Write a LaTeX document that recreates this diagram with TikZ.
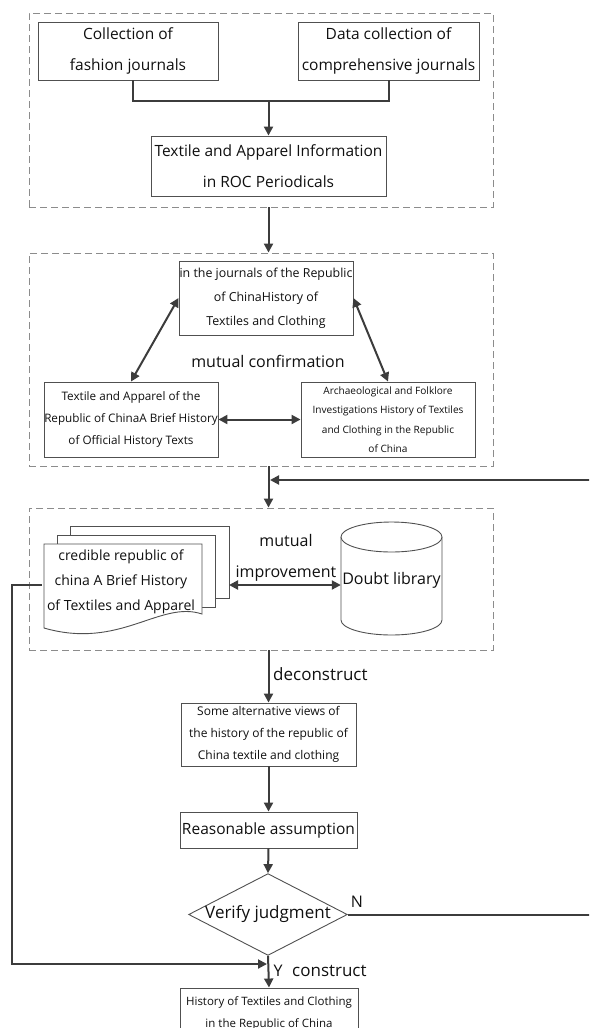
\documentclass[tikz,border=0pt]{standalone}
\usepackage{fontspec}
\setmainfont{Open Sans}
\usetikzlibrary{arrows.meta,shapes.geometric}

\begin{document}
\begin{tikzpicture}[x=1pt,y=-1pt,
  box/.style={draw=boxline,line width=0.9pt,fill=white,align=center,inner sep=0pt,text=ink},
  group/.style={draw=dashline,line width=0.9pt,dash pattern=on 7pt off 4pt,inner sep=0pt},
  flow/.style={draw=flowline,line width=2pt,-{Triangle[length=9pt,width=9pt]}},
  both/.style={draw=flowline,line width=2pt,{Triangle[length=9pt,width=9pt]}-{Triangle[length=9pt,width=9pt]}},
  wire/.style={draw=flowline,line width=2pt},
  tag/.style={text=ink,inner sep=0pt}]
  \definecolor{boxline}{HTML}{505050}
  \definecolor{dashline}{HTML}{8C8C8C}
  \definecolor{flowline}{HTML}{3C3C3C}
  \definecolor{ink}{HTML}{101010}
  \clip (0,0) rectangle (589,1028);
  % dashed groups
  \node[group,minimum width=464pt,minimum height=194pt] (g1) at (261,110) {};
  \node[group,minimum width=464pt,minimum height=213pt] (g2) at (261,359.5) {};
  \node[group,minimum width=464pt,minimum height=142pt] (g3) at (261,579) {};
  % periodical sources
  \node[box,minimum width=180pt,minimum height=58pt,font=\fontsize{15.5}{31}\selectfont] (fashion) at (128,51) {Collection of\\fashion journals};
  \node[box,minimum width=181pt,minimum height=58pt,font=\fontsize{15.5}{31}\selectfont] (compre) at (388.5,51) {Data collection of\\comprehensive journals};
  \node[box,minimum width=235pt,minimum height=60pt,font=\fontsize{15.5}{31}\selectfont] (info) at (268.5,166) {Textile and Apparel Information\\in ROC Periodicals};
  \coordinate (merge) at (268.5,101);
  % three kinds of sources
  \node[box,minimum width=174pt,minimum height=74pt,font=\fontsize{12.4}{24}\selectfont] (journals) at (266,298) {in the journals of the Republic\\of ChinaHistory of\\Textiles and Clothing};
  \node[box,minimum width=174pt,minimum height=75pt,font=\fontsize{11.7}{22}\selectfont] (official) at (131,419.5) {Textile and Apparel of the\\Republic of ChinaA Brief History\\of Official History Texts};
  \node[box,minimum width=174pt,minimum height=75pt,font=\fontsize{10.1}{19.5}\selectfont] (folk) at (388,419.5) {Archaeological and Folklore\\Investigations History of Textiles\\and Clothing in the Republic\\of China};
  \node[tag,font=\fontsize{16}{16}\selectfont] (confirm) at (268,361) {mutual confirmation};
  % document stack and cylinder
  \draw[fill=white,draw=boxline,line width=0.9pt] (70,526) rectangle (229,598);
  \draw[fill=white,draw=boxline,line width=0.9pt] (57,535) rectangle (215,607);
  \draw[fill=white,draw=boxline,line width=0.9pt] (44,544) -- (202,544) -- (202,614)
   .. controls (160,600) and (120,650) .. (44,628) -- cycle;
  \draw[fill=white,draw=boxline,line width=0.9pt] (341,537) -- (341,620)
   arc[start angle=180,end angle=360,x radius=50.5pt,y radius=15pt] -- (442,537);
  \draw[fill=white,draw=boxline,line width=0.9pt] (391.5,537) ellipse [x radius=50.5pt,y radius=15pt];
  \node[tag,align=center,font=\fontsize{14}{25}\selectfont,minimum width=158pt,minimum height=86pt] (cred) at (121,582) {credible republic of\\china A Brief History\\of Textiles and Apparel};
  \node[tag,font=\fontsize{16}{16}\selectfont,minimum width=101pt,minimum height=113pt] (doubt) at (391.5,580) {Doubt library};
  \node[tag,align=center,font=\fontsize{16}{31}\selectfont] (improve) at (286,557.5) {mutual\\improvement};
  \coordinate (stack) at (229,585);
  % verification chain
  \node[box,minimum width=175pt,minimum height=63pt,font=\fontsize{12}{22}\selectfont] (alt) at (268.5,734.5) {Some alternative views of\\the history of the republic of\\China textile and clothing};
  \node[box,minimum width=177pt,minimum height=36pt,font=\fontsize{15.5}{15.5}\selectfont] (assume) at (268.5,830) {Reasonable assumption};
  \node[box,diamond,aspect=1.94,minimum width=157pt,minimum height=81pt,font=\fontsize{17}{17}\selectfont] (judge) at (268,914.5) {Verify judgment};
  \node[box,minimum width=178pt,minimum height=50pt,font=\fontsize{11.5}{22}\selectfont] (final) at (269,1013) {History of Textiles and Clothing\\in the Republic of China};
  \node[tag,anchor=west,font=\fontsize{17}{17}\selectfont] (decon) at (273,674) {deconstruct};
  \node[tag,font=\fontsize{16}{16}\selectfont] (nlab) at (357,902) {N};
  \node[tag,font=\fontsize{16}{16}\selectfont] (ylab) at (278,971) {Y};
  \node[tag,anchor=west,font=\fontsize{17}{17}\selectfont] (con) at (292,971) {construct};
  \coordinate (joinN) at (270,480);
  \coordinate (joinY) at (267,964);
  % connectors
  \draw[wire] ([xshift=5pt]fashion.south) |- (merge) -| (compre.south);
  \draw[flow] (merge) -- (info.north);
  \draw[flow] (g1.south -| info.north) -- (g2.north -| info.north);
  \draw[both] (journals.west) -- (official.north);
  \draw[both] (journals.east) -- (folk.north);
  \draw[both] (official.east) -- (folk.west);
  \draw[flow] (g2.south -| info.north) -- (g3.north -| info.north);
  \draw[both] (stack) -- (doubt.west |- stack);
  \draw[flow] (g3.south -| alt.north) -- (alt.north);
  \draw[flow] (alt.south) -- (assume.north);
  \draw[flow] (assume.south) -- (judge.north);
  \draw[flow] (judge.south) -- (final.north);
  \draw[flow] (judge.east) -- ++(254,0) |- (joinN);
  \draw[flow] (cred.west |- stack) -- ++(-30,0) |- (joinY);
\end{tikzpicture}
\end{document}
